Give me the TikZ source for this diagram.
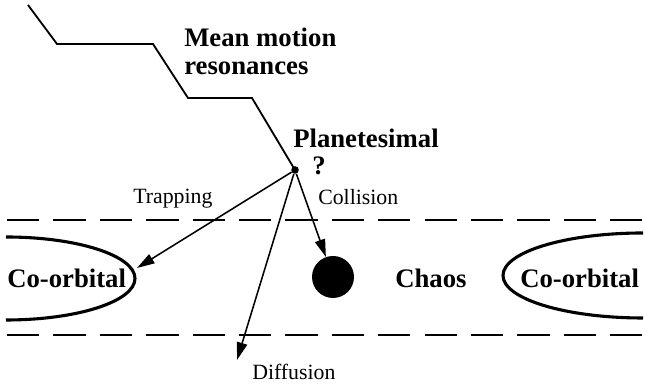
\documentclass[tikz,border=0pt]{standalone}
\usepackage{fontspec}
\setmainfont{Liberation Serif}
\usetikzlibrary{arrows.meta}

\begin{document}
\begin{tikzpicture}[
    heading/.style={font=\bfseries\fontsize{19}{19.5}\selectfont, inner sep=0pt, align=left},
    outcome/.style={font=\fontsize{15.5}{17}\selectfont, inner sep=0pt},
    band/.style={draw=black, line width=1.7pt, dash pattern=on 23pt off 10pt},
    orbit/.style={draw=black, line width=2.2pt},
    resline/.style={draw=black, line width=1.3pt},
    route/.style={draw=black, line width=1.1pt, -{Triangle[length=4.4mm, width=2.6mm]}}
]
\useasboundingbox (0,0) rectangle (16.125,9.625);

% Chaotic zone between the two dashed boundaries.
\draw[band] (0.175,4.125) -- (16.125,4.125);
\draw[band] (0.175,1.25) -- (16.125,1.25);

% Co-orbital regions on both sides.
\draw[orbit] (0.15,3.7) arc[start angle=90, end angle=-90, x radius=3.225, y radius=1.0375];
\draw[orbit] (16.075,3.8) arc[start angle=90, end angle=270, x radius=3.5, y radius=1.0625];
\node[heading, anchor=base west] (coleft) at (0.175,2.425) {Co-orbital};
\node[heading, anchor=base west] (chaos) at (9.875,2.425) {Chaos};
\node[heading, anchor=base west] (coright) at (13.0,2.425) {Co-orbital};

% Planet and planetesimal.
\node[circle, fill=black, inner sep=0pt, minimum size=1.05cm] (ball) at (8.325,2.7) {};
\node[circle, fill=black, inner sep=0pt, minimum size=0.19cm] (plan) at (7.375,5.375) {};
\node[heading, anchor=base west] (planlabel) at (7.325,5.925) {Planetesimal};
\node[heading, anchor=base west] (qmark) at (7.8,5.25) {?};

% Path through the mean motion resonances.
\draw[resline] (0.70,9.50) -- (1.425,8.525) -- (3.825,8.525) -- (4.70,7.175)
    -- (6.30,7.175) -- (plan.center);
\node[heading, anchor=north west] (mmr) at (4.6,8.925) {Mean motion\\resonances};

% Possible outcomes.
\coordinate (trapend) at (3.425,2.925);
\coordinate (diffend) at (5.925,0.625);
\draw[route] (plan) -- (trapend);
\draw[route] (plan) -- (ball);
\draw[route] (plan) -- (diffend);
\node[outcome, anchor=base west] (traplabel) at (3.325,4.525) {Trapping};
\node[outcome, anchor=base west] (colllabel) at (7.95,4.5) {Collision};
\node[outcome, anchor=base west] (difflabel) at (6.3,0.125) {Diffusion};

\end{tikzpicture}
\end{document}
